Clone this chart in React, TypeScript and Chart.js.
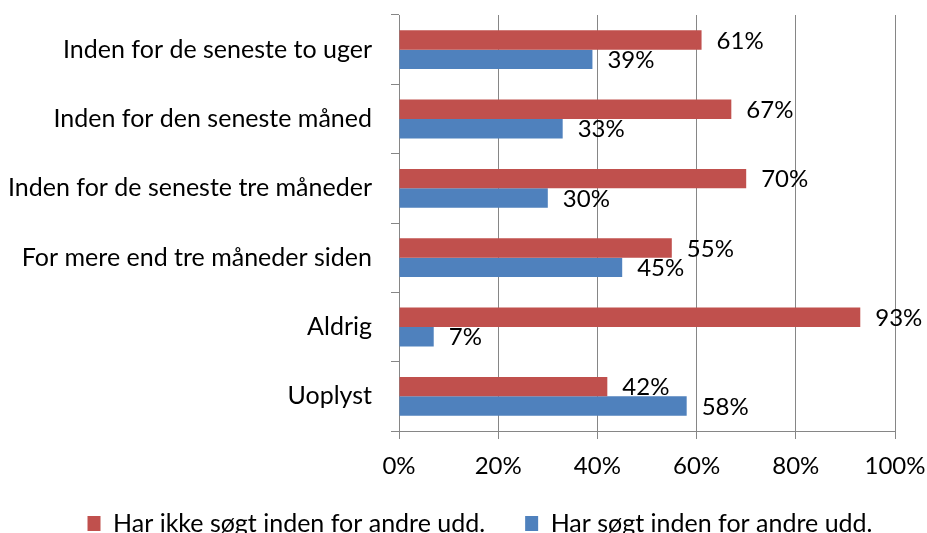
import React, { useEffect, useRef } from "react";
import { Chart, registerables } from "chart.js";

Chart.register(...registerables);

const categories = [
  "Inden for de seneste to uger",
  "Inden for den seneste måned",
  "Inden for de seneste tre måneder",
  "For mere end tre måneder siden",
  "Aldrig",
  "Uoplyst",
];
const notSought = [61, 67, 70, 55, 93, 42];
const sought = [39, 33, 30, 45, 7, 58];
const seriesNames = ["Har ikke søgt inden for andre udd.", "Har søgt inden for andre udd."];
const xTicks = [0, 20, 40, 60, 80, 100];

const FONT = "Lato, 'Open Sans', sans-serif";
const GRID = "#868686";

const labelPlugin = {
  id: "barLabels",
  afterLayout(chart: any) {
    // widen the label clip areas so long labels are not cut
    chart.scales.y.left = 0;
    chart.scales.x.bottom = chart.height;
  },
  afterDatasetsDraw(chart: any) {
    const ctx = chart.ctx;
    ctx.save();
    ctx.font = `24px ${FONT}`;
    ctx.fillStyle = "#000";
    ctx.textAlign = "left";
    ctx.textBaseline = "middle";
    chart.data.datasets.forEach((ds: any, di: number) => {
      const meta = chart.getDatasetMeta(di);
      meta.data.forEach((bar: any, i: number) => {
        ctx.fillText(ds.data[i] + "%", bar.x + 15, bar.y + 1);
      });
    });
    ctx.restore();
  },
};

export default function App() {
  const ref = useRef<HTMLCanvasElement>(null);
  useEffect(() => {
    document.body.style.margin = "0";
    const chart = new Chart(ref.current!, {
      type: "bar",
      data: {
        labels: categories,
        datasets: [
          { label: seriesNames[0], data: notSought, backgroundColor: "#C0504D" },
          { label: seriesNames[1], data: sought, backgroundColor: "#4F81BD" },
        ],
      },
      options: {
        indexAxis: "y",
        responsive: false,
        animation: false,
        layout: { padding: { top: 15, left: 33, right: 0, bottom: 0 } },
        datasets: { bar: { categoryPercentage: 0.56, barPercentage: 1 } },
        scales: {
          x: {
            min: 0,
            max: 100,
            afterBuildTicks: (s: any) => {
              s.ticks = xTicks.map((v) => ({ value: v }));
            },
            afterFit: (s: any) => {
              s.height = 40;
              s.paddingRight = 32;
              s.paddingLeft = 0;
            },
            ticks: {
              callback: (v: any) => v + "%",
              color: "#000",
              font: { family: FONT, size: 24 },
              padding: 13,
              maxRotation: 0,
            },
            grid: { color: GRID, tickLength: 8, lineWidth: 1 },
            border: { color: GRID },
          },
          y: {
            afterFit: (s: any) => {
              s.width = 366;
              s.paddingTop = 0;
              s.paddingBottom = 0;
            },
            ticks: {
              color: "#000",
              font: { family: FONT, size: 25 },
              padding: 19,
            },
            grid: { offset: true, drawOnChartArea: false, color: GRID, tickLength: 8 },
            border: { color: GRID },
          },
        },
        plugins: {
          legend: {
            position: "bottom",
            labels: {
              color: "#000",
              font: { family: FONT, size: 25 },
              boxWidth: 13,
              boxHeight: 15,
              padding: 40,
            },
          },
          tooltip: { enabled: false },
        },
      } as any,
      plugins: [labelPlugin],
    });
    return () => chart.destroy();
  }, []);
  return (
    <div style={{ width: 927, height: 533, overflow: "hidden" }}>
      <canvas ref={ref} width={927} height={546} />
    </div>
  );
}
